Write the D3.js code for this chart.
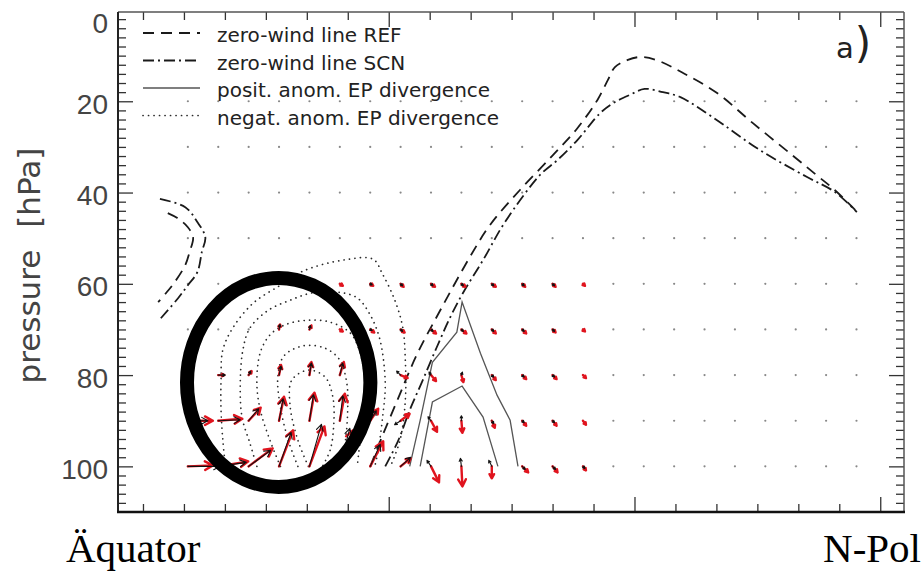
<!DOCTYPE html>
<html>
<head>
<meta charset="utf-8">
<script src="https://cdn.jsdelivr.net/npm/d3@7"></script>
<style>
  html, body { margin: 0; padding: 0; background: #fff; }
  svg { display: block; }
</style>
</head>
<body>
<svg id="chart" width="924" height="574"></svg>
<script>
// ---- grid of the EP-flux field (latitude in degrees, pressure level in hPa)
const latitudes = [8.00, 11.48, 14.96, 18.44, 21.92, 25.40, 28.88, 32.36, 35.84, 39.32, 42.80, 46.28,
                   49.76, 53.24, 56.72, 60.20, 63.68, 67.16, 70.64, 74.12, 77.60, 81.08, 84.56];
const levels = [20, 30, 40, 50, 60, 70, 80, 90, 100];

// ---- axis ticks
const yMajorTicks = [0, 20, 40, 60, 80, 100];
const yMinorTicks = [2, 4, 6, 8, 10, 12, 14, 16, 18, 22, 24, 26, 28, 30, 32, 34, 36, 38, 42, 44, 46, 48, 50,
                     52, 54, 56, 58, 62, 64, 66, 68, 70, 72, 74, 76, 78, 82, 84, 86, 88, 90, 92, 94, 96, 98,
                     102, 104, 106, 108];
const xTicks = [2.86, 7.55, 12.24, 16.93, 21.62, 26.31, 31.00, 35.69, 40.38, 45.07, 49.76, 54.45, 59.14,
                63.83, 68.52, 73.21, 77.90, 82.59, 87.28];
const xMajorTicks = [31.00, 59.14, 87.28];

// ---- EP-flux vectors (horizontal, vertical component) on levels 60..100 hPa
const fluxLevels = [60, 70, 80, 90, 100];
// SCN run (red)
const scnFy = [
  [0, 0, 0, 0, 1, 3, 3, 3, 4, 4, 4, 3, 3, 2, 1, 0, 0, 0, 0, 0, 0, 0, 0],
  [0, 0, 1, 1, 2, 3, 4, 4, 5, 5, 4, 4, 3, 2, 1, 0, 0, 0, 0, 0, 0, 0, 0],
  [5, 6, 3, 2, 2, 4, 4, 7, 5, 2, 4, 4, 4, 3, 1, 0, 0, 0, 0, 0, 0, 0, 0],
  [25, 24, 12, 5, 5, 5, 8, 9, 6, 1, 3, 4, 4, 3, 1, 0, 0, 0, 0, 0, 0, 0, 0],
  [25, 30, 24, 14, 15, 13, 13, 10, 8, 1, 0, 6, 5, 3, 1, 0, 0, 0, 0, 0, 0, 0, 0]
];
const scnFz = [
  [0, 0, 0, 0, 0, -2, -2, -3, -3, -3, -3, -3, -3, -2, -1, 0, 0, 0, 0, 0, 0, 0, 0],
  [0, 0, 1, 5, 4, -2, -3, -3, -4, -4, -4, -4, -3, -2, -1, 0, 0, 0, 0, 0, 0, 0, 0],
  [0, 0, 4, 10, 13, 13, 5, -3, -6, -7, -5, -4, -4, -3, -1, 0, 0, 0, 0, 0, 0, 0, 0],
  [0, 2, 13, 24, 28, 27, 12, 7, -11, -12, -7, -5, -5, -4, -1, 0, 0, 0, 0, 0, 0, 0, 0],
  [1, 5, 18, 36, 40, 36, 25, 8, -16, -20, -12, -6, -6, -4, -1, 0, 0, 0, 0, 0, 0, 0, 0]
];
// REF run (black)
const refFy = [
  [0, 0, 0, 0, 1, 1, 2, 2, 2, 2, 2, 2, 2, 1, 1, 0, 0, 0, 0, 0, 0, 0, 0],
  [0, 0, 1, 1, 1, 1, 2, 2, 2, 2, 2, 2, 2, 1, 1, 0, 0, 0, 0, 0, 0, 0, 0],
  [3, 7, 2, 2, 2, 3, 3, -4, -2, 1, 2, 2, 2, 1, 1, 0, 0, 0, 0, 0, 0, 0, 0],
  [20, 22, 10, 4, 4, 3, 6, -6, -3, 0, 2, 2, 2, 1, 1, 0, 0, 0, 0, 0, 0, 0, 0],
  [32, 28, 22, 12, 12, 10, 10, 10, -4, -1, -3, 3, 3, 2, 1, 0, 0, 0, 0, 0, 0, 0, 0]
];
const refFz = [
  [0, 0, 0, 0, 0, -1, -1, -2, -2, -2, -2, -2, -2, -1, -1, 0, 0, 0, 0, 0, 0, 0, 0],
  [0, 0, 1, 5, 4, -1, -1, -2, -2, -2, -2, -2, -2, -1, -1, 0, 0, 0, 0, 0, 0, 0, 0],
  [0, 0, 4, 9, 12, 12, 4, 4, 3, 3, -2, -2, -2, -1, -1, 0, 0, 0, 0, 0, 0, 0, 0],
  [0, 1, 12, 22, 26, 25, 10, -4, 4, 5, -3, -2, -2, -1, -1, 0, 0, 0, 0, 0, 0, 0, 0],
  [0, 4, 16, 34, 42, 38, 22, 9, 6, 8, 6, -3, -3, -2, -1, 0, 0, 0, 0, 0, 0, 0, 0]
];

// ---- zero-wind lines [latitude, hPa]
const zeroRefLeft  = [[5.7, 44.5], [6.8, 45.6], [8.0, 47.6], [8.6, 49.8], [8.2, 53.0], [7.7, 55.9], [6.5, 59.6], [5.6, 61.8], [4.6, 64.0]];
const zeroScnLeft  = [[4.8, 41.4], [7.7, 43.2], [9.1, 46.5], [10.0, 49.8], [9.6, 53.0], [9.1, 57.4], [8.0, 60.3], [6.9, 63.1], [4.6, 68.2]];
const zeroRefRight = [[28.9, 100], [30.3, 93.2], [32.1, 85.0], [34.2, 75.6], [36.9, 65.8], [40.3, 54.1], [42.6, 47.1],
                      [46.0, 39.5], [49.8, 31.8], [52.6, 25.9], [54.9, 19.7], [56.1, 15.3], [56.9, 12.5], [58.3, 11.0],
                      [59.8, 10.3], [61.7, 11.0], [64.7, 13.8], [68.6, 18.2], [72.7, 24.8], [77.2, 31.8], [80.0, 36.2],
                      [82.1, 39.5], [84.4, 43.8]];
const zeroScnRight = [[30.6, 100], [32.1, 94.3], [33.4, 87.7], [34.9, 81.1], [36.5, 73.9], [38.0, 67.5], [39.5, 62.0],
                      [41.8, 54.8], [44.3, 46.5], [48.3, 36.2], [50.3, 32.9], [52.6, 28.5], [55.2, 22.6], [56.7, 20.4],
                      [58.6, 18.6], [60.3, 17.3], [62.4, 18.0], [64.4, 19.1], [68.1, 23.5], [73.5, 30.7], [78.9, 36.6],
                      [82.1, 39.9], [84.6, 44.3]];

// ---- anomalous EP-flux divergence contours [latitude, hPa]
const negContours = [
  [[12.3, 100], [12.0, 94.2], [11.8, 87.7], [11.8, 81.1], [12.0, 74.5], [13.2, 69.5], [15.5, 64.2], [18.6, 60.3],
   [21.2, 57.2], [25.8, 54.8], [29.2, 54.6], [30.3, 57.9], [31.7, 63.6], [32.6, 69.5], [32.9, 76.7], [32.9, 85.5],
   [32.3, 94.2], [31.2, 100]],
  [[15.9, 100], [15.1, 94.9], [14.2, 89.2], [14.0, 81.8], [14.3, 74.5], [15.1, 69.7], [17.2, 65.8], [19.7, 63.6],
   [22.2, 62.0], [25.1, 61.8], [27.4, 63.1], [28.9, 66.9], [30.0, 72.3], [30.6, 81.8], [30.3, 89.2], [29.8, 96.4],
   [29.4, 100]],
  [[18.6, 100], [17.4, 94.3], [16.3, 87.7], [15.9, 81.8], [16.3, 75.0], [17.4, 71.2], [19.1, 69.0], [21.6, 68.0],
   [24.3, 68.4], [26.6, 70.8], [27.7, 75.0], [28.3, 81.8], [28.2, 89.2], [27.7, 94.9], [27.4, 100]],
  [[20.6, 100], [19.5, 94.3], [18.6, 87.0], [18.3, 80.4], [19.0, 75.8], [21.2, 73.6], [23.7, 74.1], [25.4, 76.7],
   [26.2, 81.8], [26.3, 87.7], [26.0, 94.9], [25.4, 100]],
  [[21.8, 100], [20.6, 94.3], [19.7, 86.6], [19.9, 81.1], [21.8, 78.9], [23.7, 80.4], [24.6, 84.8], [24.7, 91.0],
   [24.3, 96.4], [23.4, 100]]
];
const posContours = [
  [[33.4, 100], [34.6, 89.9], [36.0, 77.2], [38.8, 70.6], [39.4, 64.0], [41.5, 75.2], [43.4, 84.4], [44.9, 89.9], [45.8, 100]],
  [[34.6, 100], [36.0, 85.9], [39.4, 82.4], [41.8, 89.2], [43.5, 100]]
];

// ---- highlighted region (centre latitude/hPa, half-axes in degrees/hPa)
const highlight = { lat: 18.4, hPa: 81.6, dLat: 10.5, dHPa: 22.9 };

const legendItems = [
  { label: "zero-wind line REF", kind: "ref" },
  { label: "zero-wind line SCN", kind: "scn" },
  { label: "posit. anom. EP divergence", kind: "pos" },
  { label: "negat. anom. EP divergence", kind: "neg" }
];

// ---------------------------------------------------------------------
const svg = d3.select("#chart");
const frame = { left: 118, top: 12, right: 904, bottom: 512 };

const x = d3.scaleLinear().domain([0, 90]).range([frame.left, frame.right]);
const y = d3.scaleLinear().domain([0, 110]).range([frame.top - 2, frame.bottom]);
const flux = d3.scaleLinear().domain([0, 10]).range([0, 10]);

const styles = {
  ref: { stroke: "#1a1a1a", width: 1.8, dash: "11 7" },
  scn: { stroke: "#1a1a1a", width: 1.8, dash: "11 4 2 4" },
  pos: { stroke: "#555", width: 1.3, dash: null },
  neg: { stroke: "#2a2a2a", width: 1.7, dash: "0.1 5.4" }
};
function applyStyle(sel, kind) {
  const s = styles[kind];
  sel.attr("fill", "none").attr("stroke", s.stroke).attr("stroke-width", s.width)
     .attr("stroke-linecap", kind === "neg" ? "round" : "butt");
  if (s.dash) sel.attr("stroke-dasharray", s.dash);
  return sel;
}

// ---- axes (ticks point inward)
const fontTick = "'Liberation Sans', Arial, sans-serif";
function cleanAxis(g) { g.select(".domain").remove(); g.selectAll("line").attr("stroke", "#333").attr("stroke-width", 1.3); }

svg.append("g").attr("transform", `translate(${frame.left},0)`)
  .call(d3.axisLeft(y).tickValues(yMinorTicks).tickSize(-8).tickFormat(() => "")).call(cleanAxis);
const yMajor = svg.append("g").attr("transform", `translate(${frame.left},0)`)
  .call(d3.axisLeft(y).tickValues(yMajorTicks).tickSize(-15).tickPadding(10)).call(cleanAxis);
yMajor.selectAll(".tick").filter(d => d === 0).select("line").remove();
yMajor.selectAll(".tick text")
  .attr("font-family", fontTick).attr("font-size", 28).attr("fill", "#444")
  .attr("y", d => d === 0 ? 14 : 3);

svg.append("g").attr("transform", `translate(${frame.right},0)`)
  .call(d3.axisRight(y).tickValues(yMinorTicks).tickSize(-8).tickFormat(() => "")).call(cleanAxis);
svg.append("g").attr("transform", `translate(${frame.right},0)`)
  .call(d3.axisRight(y).tickValues(yMajorTicks.filter(d => d > 0)).tickSize(-15).tickFormat(() => "")).call(cleanAxis);

const xMinor = xTicks.filter(t => !xMajorTicks.includes(t));
svg.append("g").attr("transform", `translate(0,${frame.top})`)
  .call(d3.axisTop(x).tickValues(xMinor).tickSize(-8).tickFormat(() => "")).call(cleanAxis);
svg.append("g").attr("transform", `translate(0,${frame.top})`)
  .call(d3.axisTop(x).tickValues(xMajorTicks).tickSize(-15).tickFormat(() => "")).call(cleanAxis);
svg.append("g").attr("transform", `translate(0,${frame.bottom})`)
  .call(d3.axisBottom(x).tickValues(xMinor).tickSize(-8).tickFormat(() => "")).call(cleanAxis);
svg.append("g").attr("transform", `translate(0,${frame.bottom})`)
  .call(d3.axisBottom(x).tickValues(xMajorTicks).tickSize(-15).tickFormat(() => "")).call(cleanAxis);

// ---- frame
svg.append("line").attr("x1", frame.left).attr("x2", frame.right).attr("y1", frame.top).attr("y2", frame.top)
  .attr("stroke", "#555").attr("stroke-width", 1.5);
svg.append("line").attr("x1", frame.right).attr("x2", frame.right).attr("y1", frame.top).attr("y2", frame.bottom)
  .attr("stroke", "#555").attr("stroke-width", 1.5);
svg.append("line").attr("x1", frame.left).attr("x2", frame.left).attr("y1", frame.top).attr("y2", frame.bottom)
  .attr("stroke", "#222").attr("stroke-width", 2);
svg.append("line").attr("x1", frame.left - 1).attr("x2", frame.right + 1).attr("y1", frame.bottom).attr("y2", frame.bottom)
  .attr("stroke", "#111").attr("stroke-width", 2.5);

// ---- axis titles
svg.append("text")
  .attr("transform", `translate(40,${(y(29) + y(83)) / 2}) rotate(-90)`)
  .attr("text-anchor", "middle").attr("font-family", "'DejaVu Sans', sans-serif")
  .attr("font-size", 31).attr("fill", "#444").attr("word-spacing", 12)
  .text("pressure [hPa]");
svg.append("text").attr("x", 66).attr("y", 562)
  .attr("font-family", "'Liberation Serif', 'Times New Roman', serif").attr("font-size", 41).attr("fill", "#000")
  .text("Äquator");
svg.append("text").attr("x", 921).attr("y", 562).attr("text-anchor", "end")
  .attr("font-family", "'Liberation Serif', 'Times New Roman', serif").attr("font-size", 41).attr("fill", "#000")
  .text("N-Pol");

// panel tag
const tag = svg.append("text").attr("x", 836).attr("y", 58)
  .attr("font-family", "'DejaVu Sans', sans-serif").attr("fill", "#222");
tag.append("tspan").attr("font-size", 29).text("a");
tag.append("tspan").attr("font-size", 42).attr("dx", 1).text(")");

// ---- grid dots
const grid = d3.cross(levels, latitudes);
svg.append("g").selectAll("circle").data(grid).join("circle")
  .attr("cx", d => x(d[1])).attr("cy", d => y(d[0])).attr("r", 1.1).attr("fill", "#888");

// ---- contours and zero-wind lines
const smooth = d3.line().x(d => x(d[0])).y(d => y(d[1])).curve(d3.curveCatmullRom.alpha(0.5));
const straight = d3.line().x(d => x(d[0])).y(d => y(d[1]));

const gLines = svg.append("g");
negContours.forEach(c => applyStyle(gLines.append("path").attr("d", smooth(c)), "neg"));
posContours.forEach(c => applyStyle(gLines.append("path").attr("d", straight(c)), "pos"));
applyStyle(gLines.append("path").attr("d", smooth(zeroRefLeft)), "ref");
applyStyle(gLines.append("path").attr("d", smooth(zeroRefRight)), "ref");
applyStyle(gLines.append("path").attr("d", smooth(zeroScnLeft)), "scn");
applyStyle(gLines.append("path").attr("d", smooth(zeroScnRight)), "scn");

// ---- EP-flux arrows
function drawArrows(fy, fz, color, width, maxHead) {
  const g = svg.append("g").attr("stroke", color).attr("stroke-width", width)
    .attr("stroke-linecap", "round").attr("stroke-linejoin", "round").attr("fill", "none");
  fluxLevels.forEach((p, r) => {
    latitudes.forEach((lat, c) => {
      const dx = flux(fy[r][c]), dy = -flux(fz[r][c]);
      const len = Math.hypot(dx, dy);
      if (len < 1.5) return;
      const x0 = x(lat), y0 = y(p), x1 = x0 + dx, y1 = y0 + dy;
      const h = Math.max(2.5, Math.min(maxHead, len * 0.4));
      const a = Math.atan2(dy, dx), spread = 0.5;
      const hx1 = x1 - h * Math.cos(a - spread), hy1 = y1 - h * Math.sin(a - spread);
      const hx2 = x1 - h * Math.cos(a + spread), hy2 = y1 - h * Math.sin(a + spread);
      g.append("path").attr("d", `M${x0},${y0}L${x1},${y1}M${hx1},${hy1}L${x1},${y1}L${hx2},${hy2}`);
    });
  });
}
drawArrows(scnFy, scnFz, "#e0141e", 2.4, 9);
drawArrows(refFy, refFz, "#111", 1.1, 7);

// ---- highlighted region
svg.append("ellipse")
  .attr("cx", x(highlight.lat)).attr("cy", y(highlight.hPa))
  .attr("rx", x(highlight.lat + highlight.dLat) - x(highlight.lat))
  .attr("ry", y(highlight.hPa + highlight.dHPa) - y(highlight.hPa))
  .attr("fill", "none").attr("stroke", "#000").attr("stroke-width", 14);

// ---- legend
const legend = svg.append("g");
legendItems.forEach((item, i) => {
  const ly = 33 + i * 27.5;
  applyStyle(legend.append("line").attr("x1", 143).attr("x2", 200).attr("y1", ly).attr("y2", ly), item.kind);
  legend.append("text").attr("x", 217).attr("y", ly + 9)
    .attr("font-family", "'DejaVu Sans', sans-serif").attr("font-size", 20).attr("fill", "#222")
    .text(item.label);
});
</script>
</body>
</html>
